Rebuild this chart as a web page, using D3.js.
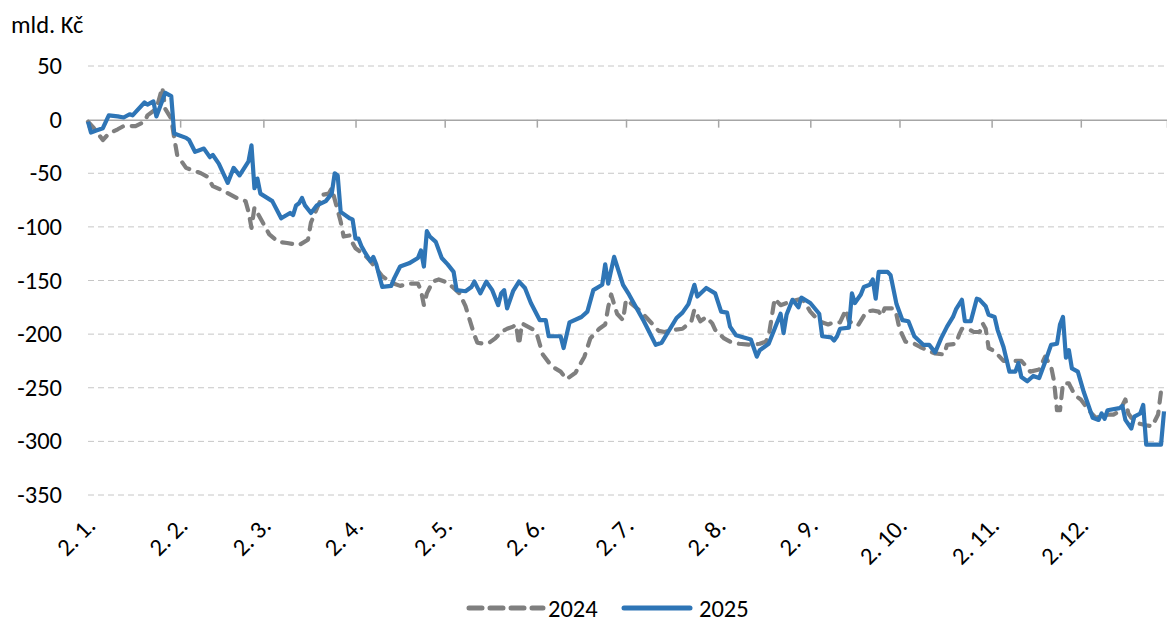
<!DOCTYPE html>
<html>
<head>
<meta charset="utf-8">
<script src="https://cdn.jsdelivr.net/npm/d3@7"></script>
<style>
  body { margin: 0; background: #fff; }
  text { font-family: Carlito, Calibri, Lato, sans-serif; fill: #000; }
</style>
</head>
<body>
<div id="graf"></div>
<script>
// data: day offsets from 2. 1. and balance in bn CZK
const days2024 = [0,2,5,7,10,12,16,19,20,23,25,26,28,29,30,33,35,38,40,42,46,50,53,54,55,56,58,61,64,67,71,74,75,79,81,82,85,86,88,89,90,93,95,97,99,102,105,108,111,112,113,114,116,118,121,123,125,127,130,131,133,135,137,139,141,143,144,145,146,150,151,153,156,159,161,164,167,169,172,174,175,176,178,180,181,183,186,188,190,192,194,197,200,203,204,206,208,210,211,214,216,219,223,226,228,229,231,232,233,236,240,241,243,246,249,251,253,255,256,259,261,262,264,266,267,268,271,272,273,275,278,280,283,285,288,289,292,293,294,296,298,300,301,302,303,305,308,314,315,317,320,322,324,325,326,327,328,330,332,334,337,339,343,345,347,349,350,351,353,356,358,360,361,362];
const values2024 = [-2,-8,-19,-13,-9,-6,-6,-2,4,10,30,10,1,-17,-33,-45,-47,-50,-53,-62,-67,-73,-76,-86,-101,-82,-92,-107,-114,-115,-117,-112,-96,-70,-69,-64,-95,-109,-108,-115,-120,-126,-132,-139,-146,-152,-155,-153,-153,-159,-173,-162,-151,-149,-152,-157,-162,-174,-201,-208,-209,-208,-204,-198,-195,-193,-191,-210,-190,-196,-200,-219,-230,-235,-242,-236,-221,-204,-195,-191,-175,-163,-181,-187,-168,-172,-179,-185,-191,-197,-198,-196,-195,-188,-177,-188,-184,-190,-196,-204,-207,-209,-210,-209,-207,-202,-167,-170,-173,-170,-167,-170,-179,-188,-191,-189,-189,-177,-188,-192,-183,-179,-178,-179,-183,-176,-176,-182,-195,-207,-209,-212,-216,-218,-219,-210,-209,-201,-195,-195,-198,-198,-190,-195,-213,-216,-225,-225,-228,-235,-233,-221,-230,-244,-271,-271,-246,-246,-257,-261,-272,-278,-275,-275,-272,-261,-274,-278,-283,-285,-286,-275,-253,-252];

const days2025 = [0,1,3,5,7,10,12,14,15,16,19,20,22,23,26,28,29,33,34,36,37,39,41,42,44,47,49,51,54,55,56,57,58,62,65,68,69,70,71,72,73,75,77,80,82,83,84,85,88,89,90,91,92,93,95,96,97,99,102,103,105,108,111,112,113,114,115,117,119,121,123,124,127,129,130,132,134,136,138,139,140,141,143,145,147,149,152,154,155,159,160,162,166,168,170,173,174,175,177,180,182,187,191,193,198,200,202,204,205,208,211,213,215,216,218,223,225,226,229,231,233,234,235,237,239,240,243,246,247,250,251,252,253,256,257,258,260,261,263,264,265,266,269,270,272,274,276,278,281,283,285,287,289,291,292,294,295,297,299,300,302,303,305,306,308,310,312,313,314,316,318,320,322,324,326,327,328,329,330,331,333,335,338,340,341,342,343,347,348,349,351,352,354,355,356,361,362];
const values2025 = [-2,-12,-10,-8,4,3,2,5,4,7,16,14,17,3,25,22,-13,-17,-19,-30,-29,-27,-35,-33,-41,-59,-45,-52,-39,-24,-64,-55,-69,-76,-92,-87,-89,-80,-78,-73,-80,-87,-80,-76,-69,-50,-52,-86,-92,-93,-111,-111,-118,-123,-132,-128,-135,-156,-155,-148,-137,-134,-129,-122,-137,-104,-109,-114,-129,-135,-142,-159,-160,-156,-151,-162,-151,-159,-173,-162,-159,-176,-160,-151,-157,-171,-187,-187,-202,-202,-213,-189,-184,-179,-159,-154,-135,-153,-128,-154,-163,-188,-210,-208,-185,-180,-172,-154,-165,-157,-162,-179,-180,-193,-201,-205,-221,-215,-209,-195,-181,-199,-182,-168,-175,-166,-171,-181,-202,-203,-206,-202,-195,-194,-162,-171,-163,-156,-154,-149,-167,-142,-142,-145,-172,-187,-188,-202,-210,-210,-217,-204,-193,-184,-177,-168,-188,-188,-167,-168,-174,-182,-184,-196,-212,-235,-235,-227,-240,-244,-239,-241,-226,-210,-209,-191,-184,-222,-215,-232,-235,-254,-278,-280,-274,-279,-271,-269,-267,-280,-288,-277,-274,-266,-303,-303,-272];

const yTicks = [50, 0, -50, -100, -150, -200, -250, -300, -350];
const tickMonths = [0,1,2,3,4,5,6,7,8,9,10,11];
const seriesNames = ["2024", "2025"];

const W = 1167, H = 623;
const margin = {top: 66, right: 0, bottom: 128, left: 88};
const fontSize = "24.5px";

const svg = d3.select("#graf").append("svg")
  .attr("width", W)
  .attr("height", H);

const start = new Date(2025, 0, 2);
const x = d3.scaleTime()
  .domain([start, new Date(2025, 11, 31)])
  .range([margin.left, W - margin.right]);
const y = d3.scaleLinear()
  .domain([-350, 50])
  .range([H - margin.bottom, margin.top]);

const toDate = d => d3.timeDay.offset(start, d);

// grid (dashed)
svg.append("g")
  .selectAll("line")
  .data(yTicks.filter(v => v !== 0))
  .join("line")
    .attr("x1", x.range()[0])
    .attr("x2", x.range()[1])
    .attr("y1", d => y(d))
    .attr("y2", d => y(d))
    .attr("stroke", "#c6c6c6")
    .attr("stroke-width", 1)
    .attr("stroke-dasharray", "6,4");

// y labels
svg.append("g")
  .selectAll("text")
  .data(yTicks)
  .join("text")
    .attr("x", 62)
    .attr("y", d => y(d) + 8)
    .attr("text-anchor", "end")
    .attr("font-size", fontSize)
    .text(d => d);

svg.append("text")
  .attr("x", 11)
  .attr("y", 33)
  .attr("font-size", fontSize)
  .text("mld. Kč");

// x axis on zero line
const tickDates = tickMonths.map(m => new Date(2025, m, 2));
const xAxis = svg.append("g")
  .attr("transform", "translate(0," + y(0) + ")")
  .call(d3.axisBottom(x).tickValues(tickDates).tickSize(8).tickFormat(""));
xAxis.select(".domain").attr("stroke", "#a6a6a6").attr("stroke-width", 1.5);
xAxis.selectAll(".tick line").attr("stroke", "#a6a6a6").attr("stroke-width", 1.5);

// rotated date labels at bottom
const fmt = d3.timeFormat("%-d. %-m.");
svg.append("g")
  .selectAll("text")
  .data(tickDates)
  .join("text")
    .attr("transform", d => "translate(" + (x(d) + 9) + ",527) rotate(-45)")
    .attr("text-anchor", "end")
    .attr("font-size", fontSize)
    .text(d => fmt(d));

// lines
const line = d3.line()
  .x(d => x(toDate(d[0])))
  .y(d => y(d[1]));

svg.append("path")
  .datum(d3.zip(days2024, values2024))
  .attr("d", line)
  .attr("fill", "none")
  .attr("stroke", "#7f7f7f")
  .attr("stroke-width", 4.2)
  .attr("stroke-linecap", "round")
  .attr("stroke-linejoin", "round")
  .attr("stroke-dasharray", "10,9");

svg.append("path")
  .datum(d3.zip(days2025, values2025))
  .attr("d", line)
  .attr("fill", "none")
  .attr("stroke", "#2e75b6")
  .attr("stroke-width", 4.2)
  .attr("stroke-linejoin", "round");

// legend
const legend = svg.append("g");
legend.append("line")
  .attr("x1", 469).attr("x2", 543).attr("y1", 608).attr("y2", 608)
  .attr("stroke", "#7f7f7f").attr("stroke-width", 5)
  .attr("stroke-linecap", "round")
  .attr("stroke-dasharray", "13,8");
legend.append("text")
  .attr("x", 548).attr("y", 617)
  .attr("font-size", fontSize)
  .text(seriesNames[0]);
legend.append("line")
  .attr("x1", 624).attr("x2", 690).attr("y1", 608).attr("y2", 608)
  .attr("stroke", "#2e75b6").attr("stroke-width", 5)
  .attr("stroke-linecap", "round");
legend.append("text")
  .attr("x", 699).attr("y", 617)
  .attr("font-size", fontSize)
  .text(seriesNames[1]);
</script>
</body>
</html>
